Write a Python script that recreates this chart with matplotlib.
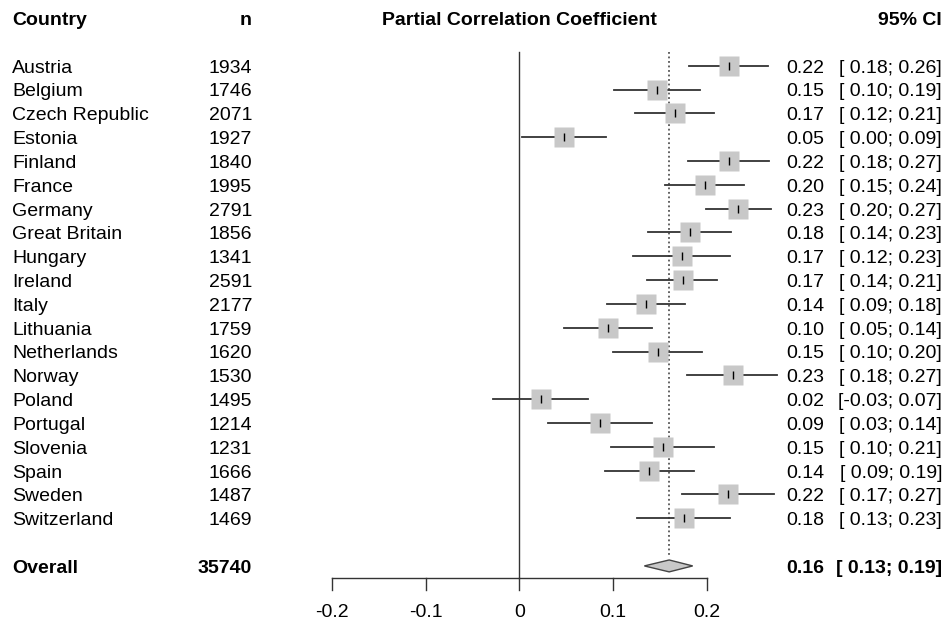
import matplotlib
matplotlib.use("Agg")
import matplotlib.pyplot as plt
from matplotlib.patches import Polygon
import matplotlib.transforms as mtransforms

plt.rcParams['font.family'] = ['Liberation Sans', 'DejaVu Sans']

countries = ["Austria", "Belgium", "Czech Republic", "Estonia", "Finland", "France",
             "Germany", "Great Britain", "Hungary", "Ireland", "Italy", "Lithuania",
             "Netherlands", "Norway", "Poland", "Portugal", "Slovenia", "Spain",
             "Sweden", "Switzerland"]
n_obs = [1934, 1746, 2071, 1927, 1840, 1995, 2791, 1856, 1341, 2591, 2177, 1759,
         1620, 1530, 1495, 1214, 1231, 1666, 1487, 1469]
# estimates (more precise than printed labels)
est = [0.2235, 0.1469, 0.1665, 0.0474, 0.2235, 0.1979, 0.2335, 0.182, 0.1737, 0.1744,
       0.1356, 0.095, 0.148, 0.2278, 0.0228, 0.0862, 0.153, 0.1388, 0.2232, 0.1762]
ci_lo = [0.181, 0.1009, 0.124, 0.0029, 0.1797, 0.1554, 0.199, 0.1377, 0.121, 0.1363,
         0.0936, 0.048, 0.1004, 0.1794, -0.028, 0.0303, 0.0976, 0.0912, 0.1737, 0.1257]
ci_hi = [0.266, 0.1925, 0.208, 0.0923, 0.267, 0.240, 0.269, 0.226, 0.2253, 0.211,
         0.1769, 0.1417, 0.1954, 0.2751, 0.0737, 0.142, 0.2075, 0.1862, 0.2716, 0.2253]
est_lbl = ["0.22", "0.15", "0.17", "0.05", "0.22", "0.20", "0.23", "0.18", "0.17", "0.17",
           "0.14", "0.10", "0.15", "0.23", "0.02", "0.09", "0.15", "0.14", "0.22", "0.18"]
ci_lbl = ["[ 0.18; 0.26]", "[ 0.10; 0.19]", "[ 0.12; 0.21]", "[ 0.00; 0.09]", "[ 0.18; 0.27]",
          "[ 0.15; 0.24]", "[ 0.20; 0.27]", "[ 0.14; 0.23]", "[ 0.12; 0.23]", "[ 0.14; 0.21]",
          "[ 0.09; 0.18]", "[ 0.05; 0.14]", "[ 0.10; 0.20]", "[ 0.18; 0.27]", "[-0.03; 0.07]",
          "[ 0.03; 0.14]", "[ 0.10; 0.21]", "[ 0.09; 0.19]", "[ 0.17; 0.27]", "[ 0.13; 0.23]"]
overall_n = 35740
overall_est = 0.160
overall_lo = 0.1335
overall_hi = 0.1851
overall_lbl = "0.16"
overall_ci_lbl = "[ 0.13; 0.19]"
x_ticks = [-0.2, -0.1, 0, 0.1, 0.2]
x_tick_lbl = ["-0.2", "-0.1", "0", "0.1", "0.2"]

W, H = 947, 628
fig = plt.figure(figsize=(W / 100, H / 100), dpi=100)
ax = fig.add_axes([0, 0, 1, 1])
ax.set_xlim(-0.5544, 0.4566)
ax.set_ylim(23.606, -2.758)
ax.axis('off')

# x in pixels, y in rows
tr = mtransforms.blended_transform_factory(
    mtransforms.Affine2D().scale(1.0 / W, 1) + ax.transAxes, ax.transData)
fs = 14
off = 0.29  # baseline offset (rows)
rows = list(range(len(countries)))
ov_row = len(countries) + 1

# headers
ax.text(12, -2 + off, "Country", transform=tr, fontsize=fs, fontweight='bold')
ax.text(252, -2 + off, "n", transform=tr, fontsize=fs, fontweight='bold', ha='right')
ax.text(0, -2 + off, "Partial Correlation Coefficient", fontsize=fs, fontweight='bold', ha='center')
ax.text(942, -2 + off, "95% CI", transform=tr, fontsize=fs, fontweight='bold', ha='right')

# reference lines
ax.plot([0, 0], [-0.575, ov_row + 0.5], color='#333333', lw=1)
ax.plot([overall_est, overall_est], [-0.575, ov_row - 0.37], color='#555555', lw=1.3, ls=(0, (1, 1.5)))

for i in rows:
    ax.plot([ci_lo[i], ci_hi[i]], [i, i], color='#333333', lw=1.3, zorder=2)
    ax.plot(est[i], i, marker='s', ms=14, color='#c8c8c8', mec='none', zorder=3)
    ax.plot(est[i], i, marker='|', ms=6, color='black', mew=1, zorder=4)
    ax.text(12, i + off, countries[i], transform=tr, fontsize=fs)
    ax.text(252, i + off, str(n_obs[i]), transform=tr, fontsize=fs, ha='right')
    ax.text(824, i + off, est_lbl[i], transform=tr, fontsize=fs, ha='right')
    ax.text(942, i + off, ci_lbl[i], transform=tr, fontsize=fs, ha='right')

# overall diamond
dia = Polygon([[overall_lo, ov_row], [overall_est, ov_row - 0.25],
               [overall_hi, ov_row], [overall_est, ov_row + 0.25]],
              closed=True, facecolor='#c8c8c8', edgecolor='#444444', lw=1, zorder=3)
ax.add_patch(dia)
ax.text(12, ov_row + off, "Overall", transform=tr, fontsize=fs, fontweight='bold')
ax.text(252, ov_row + off, str(overall_n), transform=tr, fontsize=fs, fontweight='bold', ha='right')
ax.text(824, ov_row + off, overall_lbl, transform=tr, fontsize=fs, fontweight='bold', ha='right')
ax.text(942, ov_row + off, overall_ci_lbl, transform=tr, fontsize=fs, fontweight='bold', ha='right')

# x axis
ax_y = ov_row + 0.5
ax.plot([x_ticks[0], x_ticks[-1]], [ax_y, ax_y], color='#333333', lw=1)
for t, lbl in zip(x_ticks, x_tick_lbl):
    ax.plot([t, t], [ax_y, ax_y + 0.5], color='#333333', lw=1)
    ax.text(t, ax_y + 1.35 + off, lbl, fontsize=fs, ha='center')

fig.savefig("out.png", dpi=100)
